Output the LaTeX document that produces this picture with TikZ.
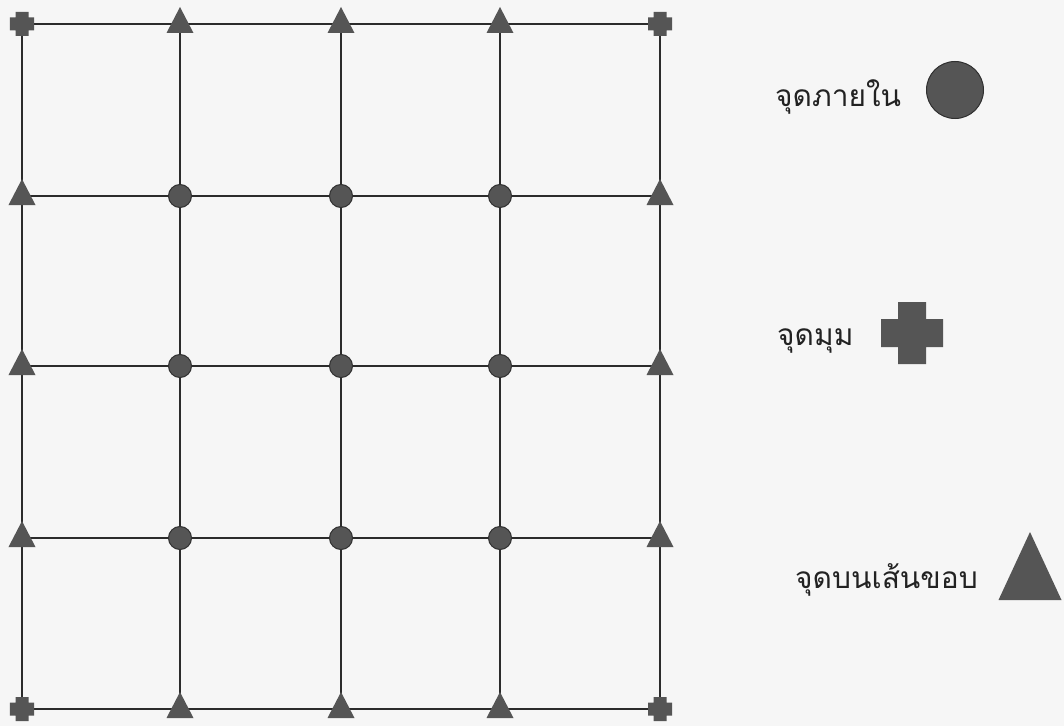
\documentclass[tikz,border=0pt]{standalone}
\usepackage{fontspec}
\newfontfamily\thaifont[Script=Thai]{Loma}
\usetikzlibrary{backgrounds}
\definecolor{bgc}{HTML}{F6F6F6}
\definecolor{mkfill}{HTML}{555555}
\definecolor{mkedge}{HTML}{303030}
\definecolor{linec}{HTML}{2B2B2B}
\definecolor{txtc}{HTML}{222222}
\tikzset{
  gridline/.style={draw=linec, line width=2bp},
  holder/.style={rectangle, inner sep=0pt, minimum size=100bp, draw, draw opacity=0},
  dotmark/.style={circle, inner sep=0pt, minimum size=#1, fill=mkfill, draw=mkedge, line width=1bp},
  crossmark/.style 2 args={holder, path picture={
     \filldraw[fill=mkfill, draw=mkedge, line width=1bp]
       ([shift={(-#1,-#2)}]path picture bounding box.center) --
       ([shift={(-#2,-#2)}]path picture bounding box.center) --
       ([shift={(-#2,-#1)}]path picture bounding box.center) --
       ([shift={(#2,-#1)}]path picture bounding box.center) --
       ([shift={(#2,-#2)}]path picture bounding box.center) --
       ([shift={(#1,-#2)}]path picture bounding box.center) --
       ([shift={(#1,#2)}]path picture bounding box.center) --
       ([shift={(#2,#2)}]path picture bounding box.center) --
       ([shift={(#2,#1)}]path picture bounding box.center) --
       ([shift={(-#2,#1)}]path picture bounding box.center) --
       ([shift={(-#2,#2)}]path picture bounding box.center) --
       ([shift={(-#1,#2)}]path picture bounding box.center) -- cycle;}},
  trimark/.style n args={3}{holder, path picture={
     \filldraw[fill=mkfill, draw=mkedge, line width=1bp, line join=round]
       ([shift={(0bp,#2)}]path picture bounding box.center) --
       ([shift={(-#1,-#3)}]path picture bounding box.center) --
       ([shift={(#1,-#3)}]path picture bounding box.center) -- cycle;}},
  legendtext/.style={anchor=base west, inner sep=0pt, text=txtc, font=\thaifont\fontsize{30}{36}\selectfont},
}
\begin{document}
\begin{tikzpicture}[x=1bp, y=-1bp]
\useasboundingbox (0,0) rectangle (1064,726);
\foreach \x [count=\i] in {22,180,341,500,660} {
  \foreach \y [count=\j] in {24,196,366,538,709} {
    \pgfmathtruncatemacro\bi{(\i==1)||(\i==5)}
    \pgfmathtruncatemacro\bj{(\j==1)||(\j==5)}
    \pgfmathtruncatemacro\kind{\bi+\bj}
    \ifcase\kind
      \node[dotmark=23bp] (n-\i-\j) at (\x,\y) {};
    \or
      \node[trimark={13.5bp}{17bp}{9bp}] (n-\i-\j) at (\x,\y) {};
    \or
      \node[crossmark={12bp}{6.5bp}] (n-\i-\j) at (\x,\y) {};
    \fi
  }
}
\begin{scope}[on background layer]
  \fill[bgc] (0,0) rectangle (1064,726);
  \foreach \a [evaluate=\a as \b using int(\a+1)] in {1,...,4} {
    \foreach \c in {1,...,5} {
      \draw[gridline] (n-\a-\c.center) -- (n-\b-\c.center);
      \draw[gridline] (n-\c-\a.center) -- (n-\c-\b.center);
    }
  }
\end{scope}
% legend
\node[legendtext] (t-inner) at (775,107) {จุดภายใน};
\node[dotmark=57bp] (lg-dot) at (955,90) {};
\node[legendtext] (t-corner) at (777,345) {จุดมุม};
\node[crossmark={31bp}{14bp}] (lg-cross) at (912,333) {};
\node[legendtext] (t-edge) at (795,588) {จุดบนเส้นขอบ};
\node[trimark={31.5bp}{43bp}{25bp}] (lg-tri) at (1030,575) {};
\end{tikzpicture}
\end{document}
